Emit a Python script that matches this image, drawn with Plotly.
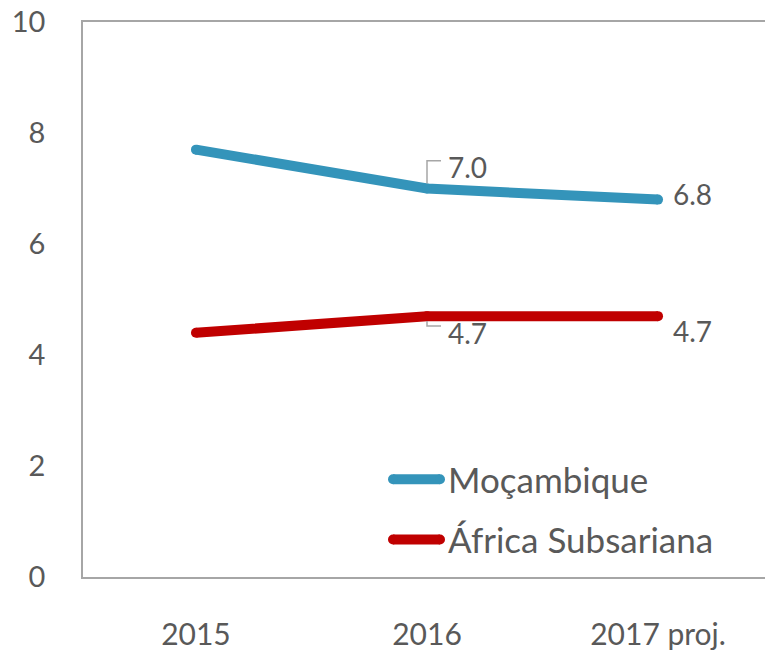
import plotly.graph_objects as go

# Growth rates (%)
years = ["2015", "2016", "2017 proj."]
mocambique = [7.7, 7.0, 6.8]
africa_ss = [4.4, 4.7, 4.7]
series_names = ["Moçambique", "África Subsariana"]
y_ticks = [0, 2, 4, 6, 8, 10]

BLUE = "#3494BA"
RED = "#C00000"
TEXT = "#595959"
AXIS = "#A6A6A6"
FONT = "Lato"

x = list(range(len(years)))

fig = go.Figure()
for vals, color, name in [(mocambique, BLUE, series_names[0]), (africa_ss, RED, series_names[1])]:
    fig.add_trace(go.Scatter(
        x=x, y=vals, mode="lines+markers", name=name,
        line=dict(color=color, width=10, shape="linear"),
        marker=dict(color=color, size=10, line=dict(width=0)),  # rounded ends
        showlegend=False, hoverinfo="skip",
    ))

# pixel scale helpers (plot area 682 px wide over 2.952 units, 562 px tall over 10 units)
XR = (-0.489, 2.463)
px_x = (XR[1] - XR[0]) / 682.0
px_y = 10.0 / 562.0

# leader lines for the 2016 labels
for val, dy in [(mocambique[1], 1), (africa_ss[1], -1)]:
    y0 = val + dy * 5 * px_y
    y1 = val + dy * 28 * px_y if dy > 0 else val - 10 * px_y
    fig.add_trace(go.Scatter(
        x=[x[1], x[1], x[1] + 14 * px_x], y=[y0, y1, y1], mode="lines",
        line=dict(color="#A6A6A6", width=1.5), showlegend=False, hoverinfo="skip",
    ))

lab_font = dict(family=FONT, size=28, color=TEXT)
annotations = []
# 2016 labels
annotations.append(dict(x=x[1], y=mocambique[1], xref="x", yref="y", text=f"{mocambique[1]:.1f}",
                        showarrow=False, xanchor="left", yanchor="middle", xshift=19, yshift=22,
                        font=lab_font))
annotations.append(dict(x=x[1], y=africa_ss[1], xref="x", yref="y", text=f"{africa_ss[1]:.1f}",
                        showarrow=False, xanchor="left", yanchor="middle", xshift=19, yshift=-17,
                        font=lab_font))
# 2017 labels
annotations.append(dict(x=x[2], y=mocambique[2], xref="x", yref="y", text=f"{mocambique[2]:.1f}",
                        showarrow=False, xanchor="left", yanchor="middle", xshift=13, yshift=6,
                        font=lab_font))
annotations.append(dict(x=x[2], y=africa_ss[2], xref="x", yref="y", text=f"{africa_ss[2]:.1f}",
                        showarrow=False, xanchor="left", yanchor="middle", xshift=13, yshift=-15,
                        font=lab_font))

# custom legend (long line keys)
shapes = []
W, H = 765, 651
ML, MT, MB = 83, 22, 67
pw, ph = W - ML, H - MT - MB
for i, (name, color) in enumerate(zip(series_names, [BLUE, RED])):
    ypix = 485 + i * 61
    yp = (H - MB - ypix) / ph
    x0 = (393 - ML) / pw
    x1 = (440 - ML) / pw
    shapes.append(dict(type="line", xref="paper", yref="paper", x0=x0, x1=x1, y0=yp, y1=yp,
                       line=dict(color=color, width=10)))
    for xe in (393, 440):
        shapes.append(dict(type="circle", xref="paper", yref="paper",
                           x0=(xe - 5 - ML) / pw, x1=(xe + 5 - ML) / pw,
                           y0=(H - MB - ypix - 5) / ph, y1=(H - MB - ypix + 5) / ph,
                           fillcolor=color, line=dict(width=0)))
    annotations.append(dict(x=(446 - ML) / pw, y=yp, xref="paper", yref="paper", text=name,
                            showarrow=False, xanchor="left", yanchor="middle",
                            font=dict(family=FONT, size=35, color=TEXT)))

fig.update_layout(
    width=W, height=H,
    margin=dict(l=ML, r=0, t=MT, b=MB, pad=0),
    plot_bgcolor="white", paper_bgcolor="white",
    font=dict(family=FONT, size=28, color=TEXT),
    shapes=shapes, annotations=annotations,
    xaxis=dict(range=list(XR), tickvals=x, ticktext=years, showgrid=False, zeroline=False,
               showline=True, mirror=True, linecolor=AXIS, linewidth=1.5,
               ticks="", ticklabelstandoff=30, tickfont=dict(size=30, color=TEXT)),
    yaxis=dict(range=[0, 10], tickvals=y_ticks, showgrid=False, zeroline=False,
               showline=True, linecolor=AXIS, linewidth=1.5, ticks="",
               ticklabelstandoff=30, tickfont=dict(size=29, color=TEXT)),
)

fig.write_html("out.html")
